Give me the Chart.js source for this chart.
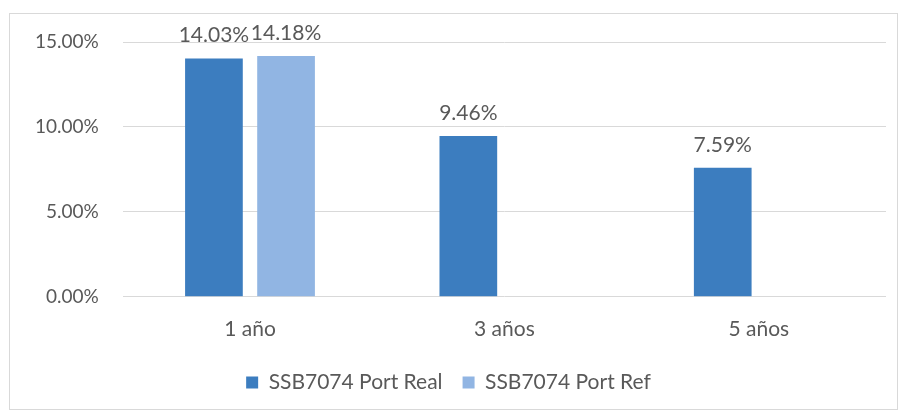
<!DOCTYPE html>
<html>
<head>
<meta charset="utf-8">
<script src="https://cdn.jsdelivr.net/npm/chart.js@4/dist/chart.umd.min.js"></script>
<style>
  html, body { margin: 0; padding: 0; background: #fff; }
  #wrap { position: relative; width: 902px; height: 414px; }
  #frame { position: absolute; left: 9px; top: 13px; width: 887px; height: 395px; border: 1px solid #d9d9d9; }
  canvas { position: absolute; left: 0; top: 0; }
</style>
</head>
<body>
<div id="wrap">
  <div id="frame"></div>
  <canvas id="chart" width="902" height="414"></canvas>
</div>
<script>
// --- data ---
const categories = ['1 año', '3 años', '5 años'];
const portReal = [14.03, 9.46, 7.59];
const portRef = [14.18, null, null];
const seriesNames = ['SSB7074 Port Real', 'SSB7074 Port Ref'];
const yTicks = [0, 5, 10, 15];

const textColor = '#595959';
const fontFamily = 'Lato, "Open Sans", sans-serif';

// draws the value labels over each bar
const valueLabels = {
    id: 'valueLabels',
    afterDatasetsDraw(chart) {
        const ctx = chart.ctx;
        ctx.save();
        ctx.font = '21px ' + fontFamily;
        ctx.fillStyle = textColor;
        ctx.textAlign = 'center';
        ctx.textBaseline = 'alphabetic';
        chart.data.datasets.forEach((ds, i) => {
            chart.getDatasetMeta(i).data.forEach((bar, j) => {
                const v = ds.data[j];
                if (v === null || v === undefined) return;
                ctx.fillText(v.toFixed(2) + '%', bar.x, bar.y - 16);
            });
        });
        ctx.restore();
    }
};

new Chart(document.getElementById('chart'), {
    type: 'bar',
    data: {
        labels: categories,
        datasets: [
            { label: seriesNames[0], data: portReal, backgroundColor: '#3c7dbf' },
            { label: seriesNames[1], data: portRef, backgroundColor: '#91b5e3' }
        ]
    },
    options: {
        responsive: false,
        animation: false,
        categoryPercentage: 0.567,
        barPercentage: 0.8,
        layout: { padding: { top: 42, right: 16, bottom: 11, left: 11 } },
        scales: {
            x: {
                grid: { display: false },
                border: { display: false },
                ticks: { color: textColor, font: { size: 21, family: fontFamily }, padding: 12 },
                afterFit: axis => { axis.height -= 2; }
            },
            y: {
                min: 0, max: 15,
                afterBuildTicks: axis => { axis.ticks = yTicks.map(v => ({ value: v })); },
                grid: { color: '#d9d9d9', drawTicks: false },
                border: { display: false },
                ticks: {
                    color: textColor,
                    font: { size: 19, family: fontFamily },
                    padding: 24,
                    callback: v => v.toFixed(2) + '%'
                }
            }
        },
        plugins: {
            legend: {
                position: 'bottom',
                labels: {
                    color: textColor,
                    font: { size: 21, family: fontFamily },
                    boxWidth: 12, boxHeight: 12, padding: 20
                }
            },
            tooltip: { enabled: false }
        }
    },
    plugins: [valueLabels]
});
</script>
</body>
</html>
